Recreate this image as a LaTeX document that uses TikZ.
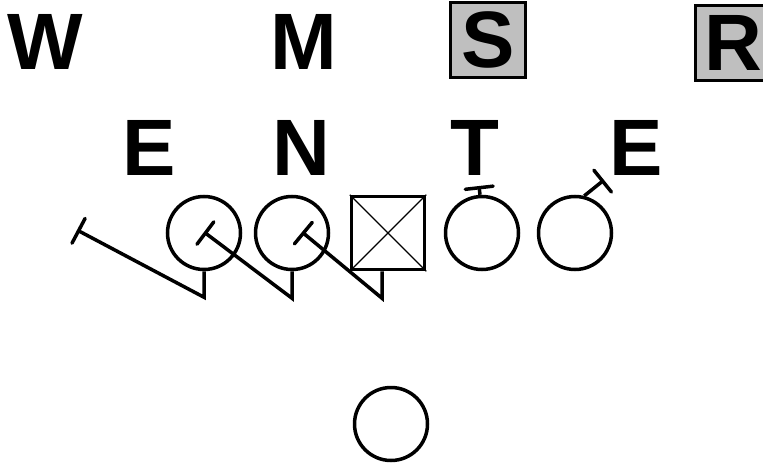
\documentclass[tikz,border=0pt]{standalone}
\usepackage{fontspec}
\setmainfont{Liberation Sans}
\usetikzlibrary{arrows.meta}
\begin{document}
\begin{tikzpicture}[x=1pt,y=-1pt,
  every node/.style={font=\fontsize{80}{80}\selectfont\bfseries},
  defender/.style={inner sep=0pt},
  boxed/.style={draw,line width=3.5pt,fill=black!25,minimum size=75pt,inner sep=0pt},
  player/.style={draw,circle,line width=3.5pt,minimum size=73pt,inner sep=0pt},
  snapper/.style={draw,rectangle,line width=3.5pt,minimum size=73pt,inner sep=0pt},
  block/.style={line width=3.5pt,line join=miter,-{Bar[width=28pt,line cap=round]}}]
  \useasboundingbox (0,0) rectangle (763,468);
  \clip (0,0) rectangle (763,468);
  % Level 0: linebackers
  \node[defender] (w) at (45,42) {W};
  \node[defender] (m) at (304,42) {M};
  \node[boxed] (s) at (488,40) {S};
  \node[boxed] (r) at (733,43) {R};
  % Level 1: line
  \node[defender] (el) at (149,148) {E};
  \node[defender] (n) at (301,148) {N};
  \node[defender] (t) at (475,148) {T};
  \node[defender] (er) at (636,148) {E};
  % Level 2: offense
  \node[player] (lt) at (204,233) {};
  \node[player] (lg) at (292,233) {};
  \node[snapper] (c) at (388,233) {};
  \node[player] (rg) at (482,233) {};
  \node[player] (rt) at (575,233) {};
  \node[player] (qb) at (391,424) {};
  \draw[line width=1.2pt] (c.north west) -- (c.south east)
                          (c.north east) -- (c.south west);
  % Blocks
  \coordinate (ltend) at (77,230);
  \coordinate (lgend) at (204,232);
  \coordinate (cend) at (302,232);
  \draw[block] (lt.south) -- ++(0,26) -- (ltend);
  \draw[block] (lg.south) -- ++(0,27) -- (lgend);
  \draw[block] ([xshift=-6pt]c.south) -- ++(0,27) -- (cend);
  \draw[block] (rg.93) -- (479,186);
  \draw[block] (rt.76) -- (604,180);
\end{tikzpicture}
\end{document}
